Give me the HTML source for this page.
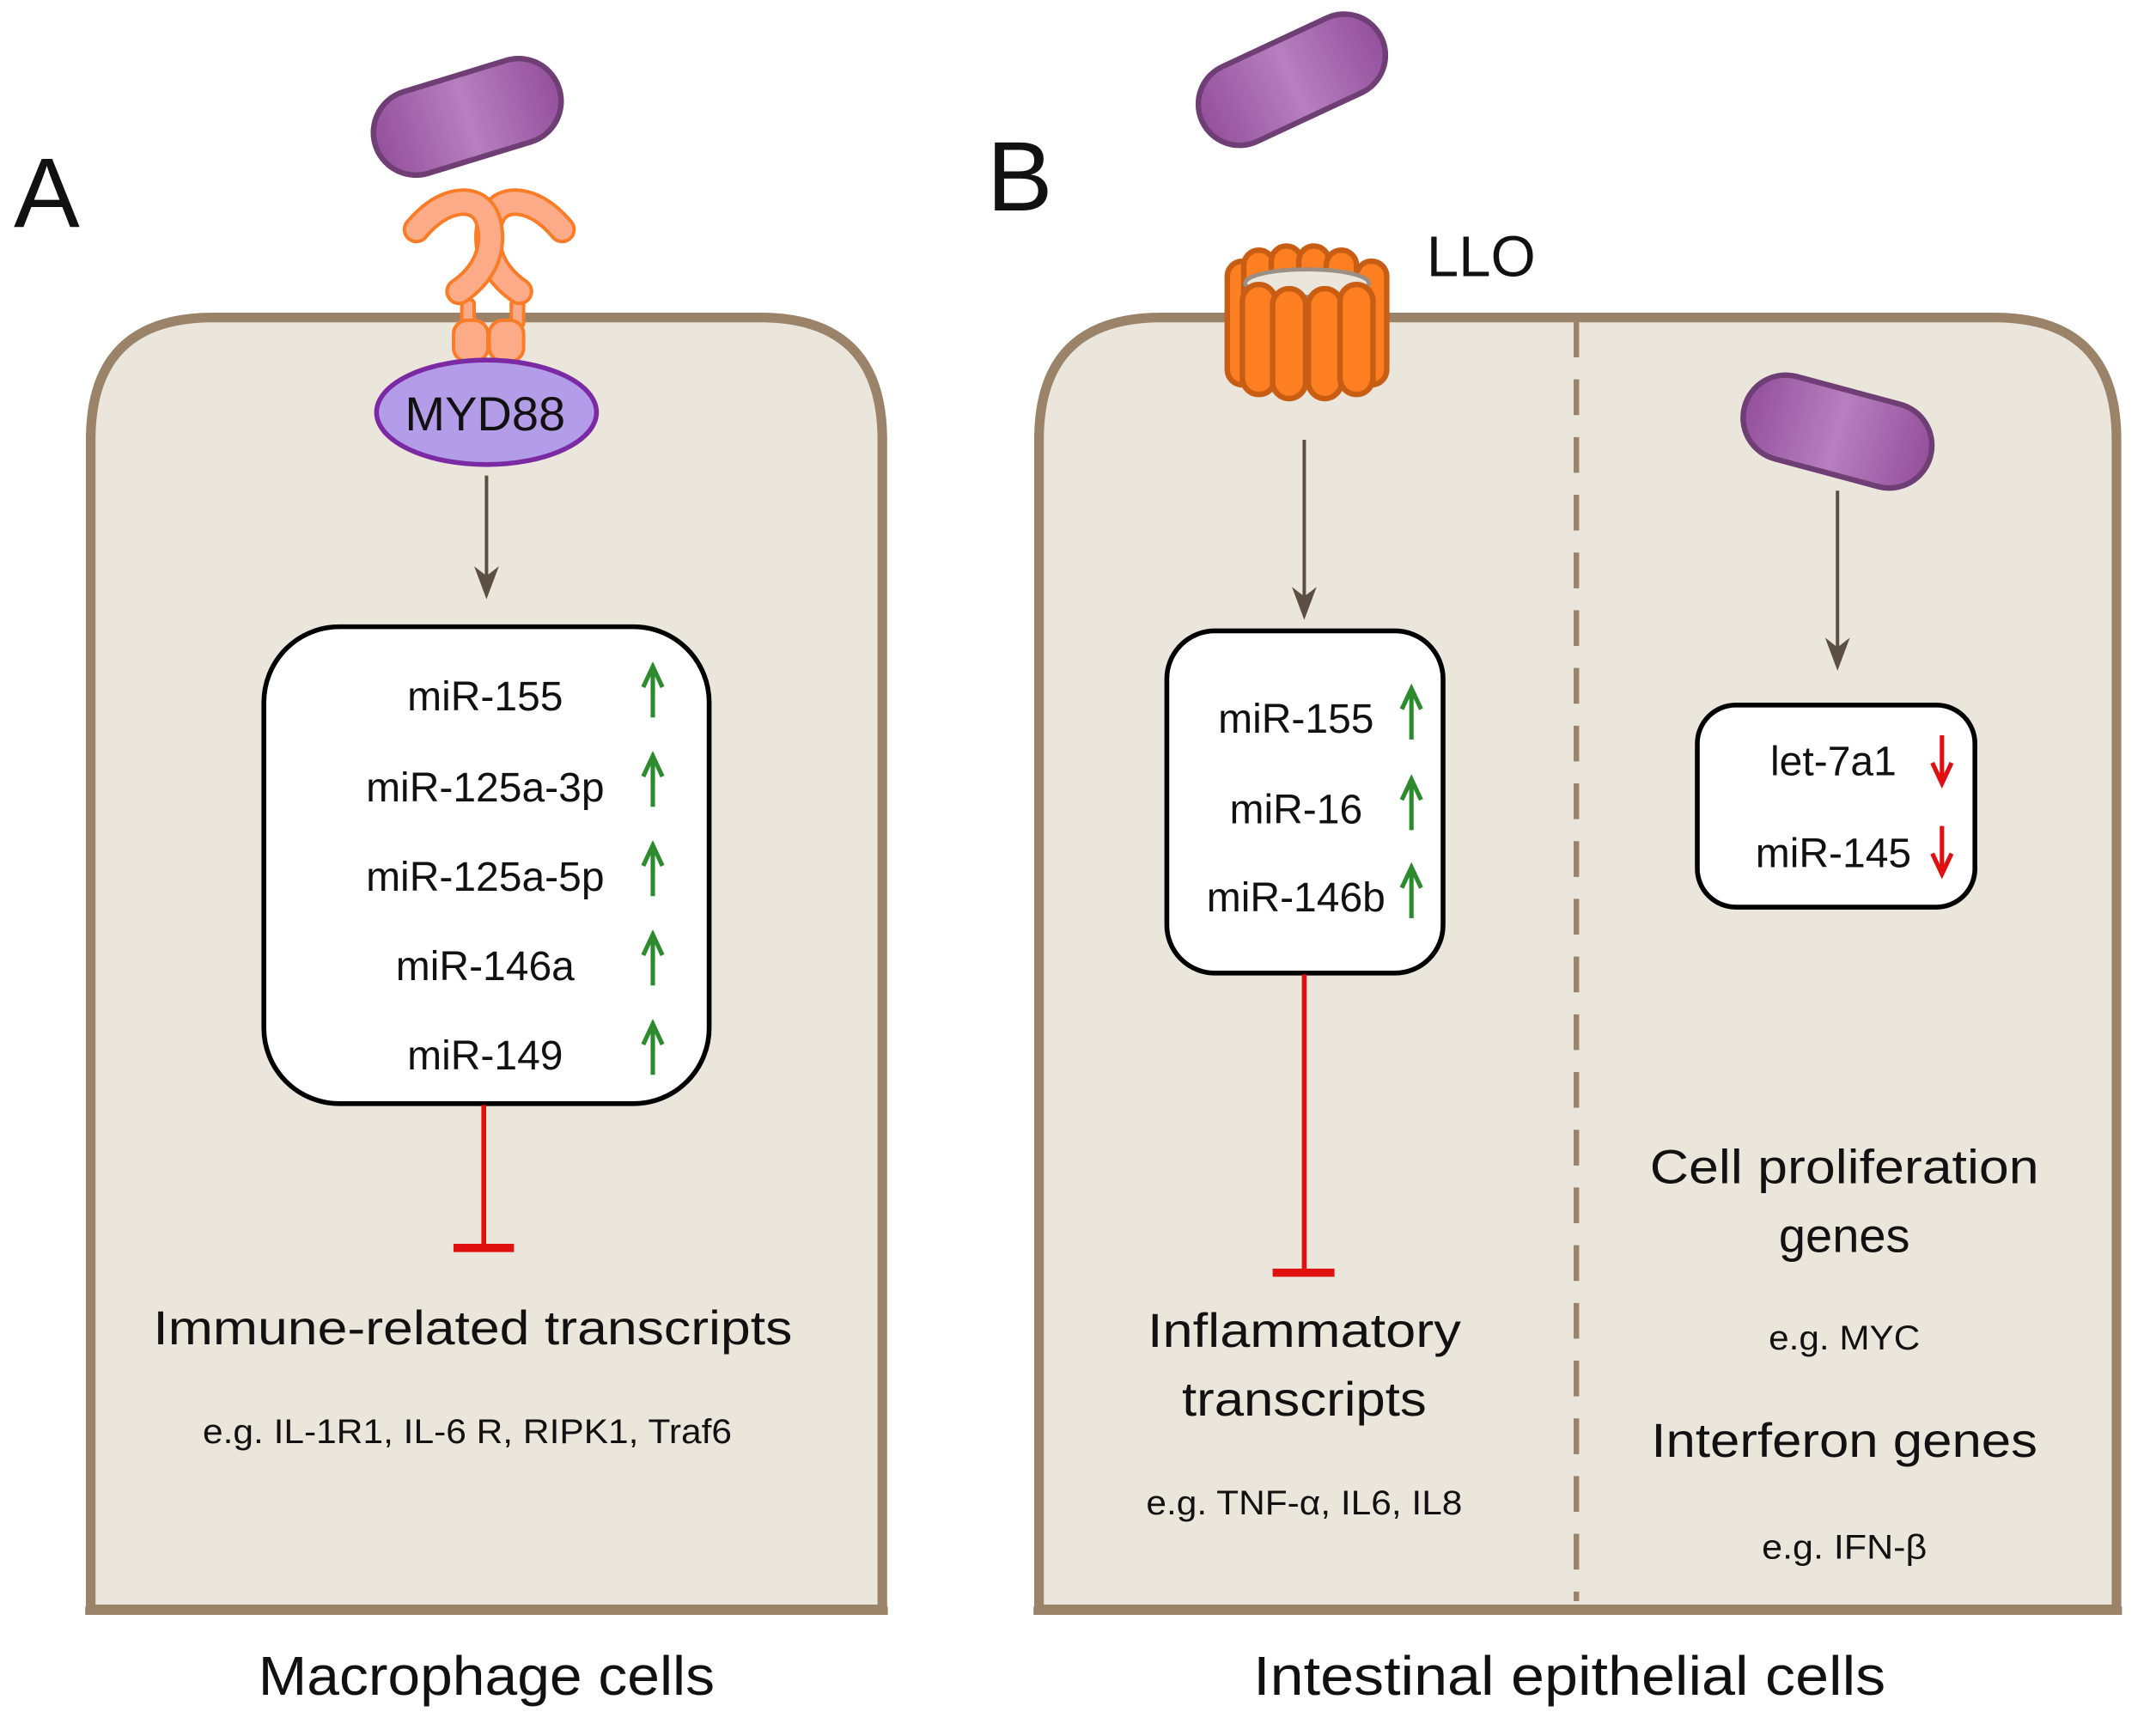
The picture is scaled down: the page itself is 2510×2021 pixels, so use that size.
<!DOCTYPE html>
<html><head><meta charset="utf-8"><style>
html,body{margin:0;padding:0;background:#fff;}
svg{display:block;}
text{font-family:"Liberation Sans",sans-serif;fill:#111;}
</style></head><body>
<svg width="2510" height="2021" viewBox="0 0 1568.75 1263.1" xmlns="http://www.w3.org/2000/svg">
<defs>
<linearGradient id="bac" x1="0" y1="0" x2="1" y2="0">
<stop offset="0" stop-color="#94509c"/><stop offset="0.5" stop-color="#b67fbe"/><stop offset="1" stop-color="#94509c"/>
</linearGradient>
</defs>

<!-- Labels A B -->
<text x="10" y="165" font-size="72">A</text>
<text x="718" y="153" font-size="72">B</text>

<!-- Cell A -->
<path d="M66,1171 L66,320 Q66,231 155,231 L553,231 Q642,231 642,320 L642,1171 Z" fill="#ebe6db" stroke="#9b836a" stroke-width="7"/>
<line x1="62" y1="1172" x2="646" y2="1172" stroke="#9b836a" stroke-width="6"/>

<!-- Cell B -->
<path d="M756,1171 L756,320 Q756,231 845,231 L1451,231 Q1540,231 1540,320 L1540,1171 Z" fill="#ebe6db" stroke="#9b836a" stroke-width="7"/>
<line x1="752" y1="1172" x2="1544" y2="1172" stroke="#9b836a" stroke-width="6"/>
<line x1="1147" y1="234" x2="1147" y2="1165" stroke="#9b836a" stroke-width="4" stroke-dasharray="26,16"/>

<!-- Bacteria -->
<g transform="translate(340,85) rotate(-17)">
<rect x="-70" y="-31" width="140" height="62" rx="31" fill="url(#bac)" stroke="#6e3e74" stroke-width="4"/>
</g>
<g transform="translate(940,58) rotate(-25)">
<rect x="-72" y="-30" width="144" height="60" rx="30" fill="url(#bac)" stroke="#6e3e74" stroke-width="4"/>
</g>
<g transform="translate(1337,314) rotate(15)">
<rect x="-70" y="-31" width="140" height="62" rx="31" fill="url(#bac)" stroke="#6e3e74" stroke-width="4"/>
</g>

<!-- Receptor A -->
<g fill="#fbab88" stroke="#fa7c26" stroke-width="2.5">
<rect x="336" y="218" width="9" height="20" rx="3"/>
<rect x="372" y="218" width="9" height="20" rx="3"/>
<rect x="330" y="233" width="25" height="30" rx="10"/>
<rect x="356" y="233" width="25" height="30" rx="10"/>
</g>
<g fill="none" stroke-linecap="round" stroke-linejoin="round">
<path d="M409,167 Q392,147 374,147 Q356,148 355,172 Q355,196 378,212" stroke="#fa7c26" stroke-width="20"/>
<path d="M409,167 Q392,147 374,147 Q356,148 355,172 Q355,196 378,212" stroke="#fbab88" stroke-width="15"/>
<path d="M303,167 Q320,147 338,147 Q356,148 357,172 Q357,196 334,212" stroke="#fa7c26" stroke-width="20"/>
<path d="M303,167 Q320,147 338,147 Q356,148 357,172 Q357,196 334,212" stroke="#fbab88" stroke-width="15"/>
</g>

<!-- MYD88 -->
<ellipse cx="354" cy="300" rx="80" ry="38" fill="#b39ce8" stroke="#7b2aa4" stroke-width="3.5"/>
<text x="353" y="313" font-size="35" text-anchor="middle">MYD88</text>

<!-- LLO pore -->
<g fill="#fd7f22" stroke="#c85d14" stroke-width="4">
<rect x="893" y="190" width="22" height="90" rx="11"/>
<rect x="987" y="190" width="22" height="90" rx="11"/>
<rect x="905" y="182" width="22" height="50" rx="11"/>
<rect x="925" y="179" width="22" height="50" rx="11"/>
<rect x="945" y="179" width="22" height="50" rx="11"/>
<rect x="965" y="182" width="22" height="50" rx="11"/>
</g>
<ellipse cx="951" cy="206" rx="45" ry="10" fill="#ebe6db" stroke="#9b8f84" stroke-width="3"/>
<g fill="#fd7f22" stroke="#c85d14" stroke-width="4">
<rect x="904" y="207" width="24" height="80" rx="12"/>
<rect x="926" y="210" width="24" height="80" rx="12"/>
<rect x="952" y="210" width="24" height="80" rx="12"/>
<rect x="975" y="207" width="24" height="80" rx="12"/>
</g>
<text x="1038" y="201" font-size="42">LLO</text>

<!-- Arrows brown -->
<g stroke="#5c4f44" stroke-width="2.5" fill="#5c4f44">
<line x1="354" y1="346" x2="354" y2="428"/>
<path d="M345,412 L354,436 L363,412 L354,419 Z" stroke="none"/>
<line x1="949" y1="320" x2="949" y2="443"/>
<path d="M940,427 L949,451 L958,427 L949,434 Z" stroke="none"/>
<line x1="1337" y1="357" x2="1337" y2="480"/>
<path d="M1328,464 L1337,488 L1346,464 L1337,471 Z" stroke="none"/>
</g>

<!-- Boxes -->
<rect x="192" y="456" width="324" height="347" rx="55" fill="#fff" stroke="#000" stroke-width="3.5"/>
<rect x="849" y="459" width="201" height="249" rx="35" fill="#fff" stroke="#000" stroke-width="3.5"/>
<rect x="1235" y="513" width="202" height="147" rx="28" fill="#fff" stroke="#000" stroke-width="3.5"/>

<g font-size="30" text-anchor="middle">
<text x="353" y="517">miR-155</text>
<text x="353" y="583">miR-125a-3p</text>
<text x="353" y="648">miR-125a-5p</text>
<text x="353" y="713">miR-146a</text>
<text x="353" y="778">miR-149</text>
<text x="943" y="533">miR-155</text>
<text x="943" y="599">miR-16</text>
<text x="943" y="663">miR-146b</text>
<text x="1334" y="564">let-7a1</text>
<text x="1334" y="631">miR-145</text>
</g>

<!-- green arrows -->
<g stroke="#2e8a2e" stroke-width="3.2" fill="none">
<path d="M475,522 L475,486 M468,500 L475,485 L482,500"/>
<path d="M475,587 L475,551 M468,565 L475,550 L482,565"/>
<path d="M475,652 L475,616 M468,630 L475,615 L482,630"/>
<path d="M475,717 L475,681 M468,695 L475,680 L482,695"/>
<path d="M475,782 L475,746 M468,760 L475,745 L482,760"/>
<path d="M1027,538 L1027,502 M1020,516 L1027,501 L1034,516"/>
<path d="M1027,604 L1027,568 M1020,582 L1027,567 L1034,582"/>
<path d="M1027,668 L1027,632 M1020,646 L1027,631 L1034,646"/>
</g>
<g stroke="#e01010" stroke-width="3.2" fill="none">
<path d="M1413,535 L1413,569 M1406,555 L1413,570 L1420,555"/>
<path d="M1413,601 L1413,635 M1406,621 L1413,636 L1420,621"/>
</g>

<!-- inhibition lines -->
<g stroke="#e01010" fill="none">
<line x1="352" y1="804" x2="352" y2="908" stroke-width="3.5"/>
<line x1="330" y1="908" x2="374" y2="908" stroke-width="6"/>
<line x1="949" y1="709" x2="949" y2="926" stroke-width="3.5"/>
<line x1="926" y1="926" x2="971" y2="926" stroke-width="6"/>
</g>

<g text-anchor="middle">
<text x="344" y="978" font-size="35" textLength="465" lengthAdjust="spacingAndGlyphs">Immune-related transcripts</text>
<text x="340" y="1050" font-size="25" textLength="385" lengthAdjust="spacingAndGlyphs">e.g. IL-1R1, IL-6 R, RIPK1, Traf6</text>
<text x="949" y="980" font-size="35" textLength="228" lengthAdjust="spacingAndGlyphs">Inflammatory</text>
<text x="949" y="1030" font-size="35" textLength="178" lengthAdjust="spacingAndGlyphs">transcripts</text>
<text x="949" y="1102" font-size="25" textLength="230" lengthAdjust="spacingAndGlyphs">e.g. TNF-α, IL6, IL8</text>
<text x="1342" y="861" font-size="35" textLength="283" lengthAdjust="spacingAndGlyphs">Cell proliferation</text>
<text x="1342" y="911" font-size="35">genes</text>
<text x="1342" y="982" font-size="25" textLength="110" lengthAdjust="spacingAndGlyphs">e.g. MYC</text>
<text x="1342" y="1060" font-size="35" textLength="281" lengthAdjust="spacingAndGlyphs">Interferon genes</text>
<text x="1342" y="1134" font-size="25" textLength="120" lengthAdjust="spacingAndGlyphs">e.g. IFN-β</text>
<text x="354" y="1233" font-size="40" textLength="332" lengthAdjust="spacingAndGlyphs">Macrophage cells</text>
<text x="1142" y="1233" font-size="40" textLength="460" lengthAdjust="spacingAndGlyphs">Intestinal epithelial cells</text>
</g>
</svg>
</body></html>
